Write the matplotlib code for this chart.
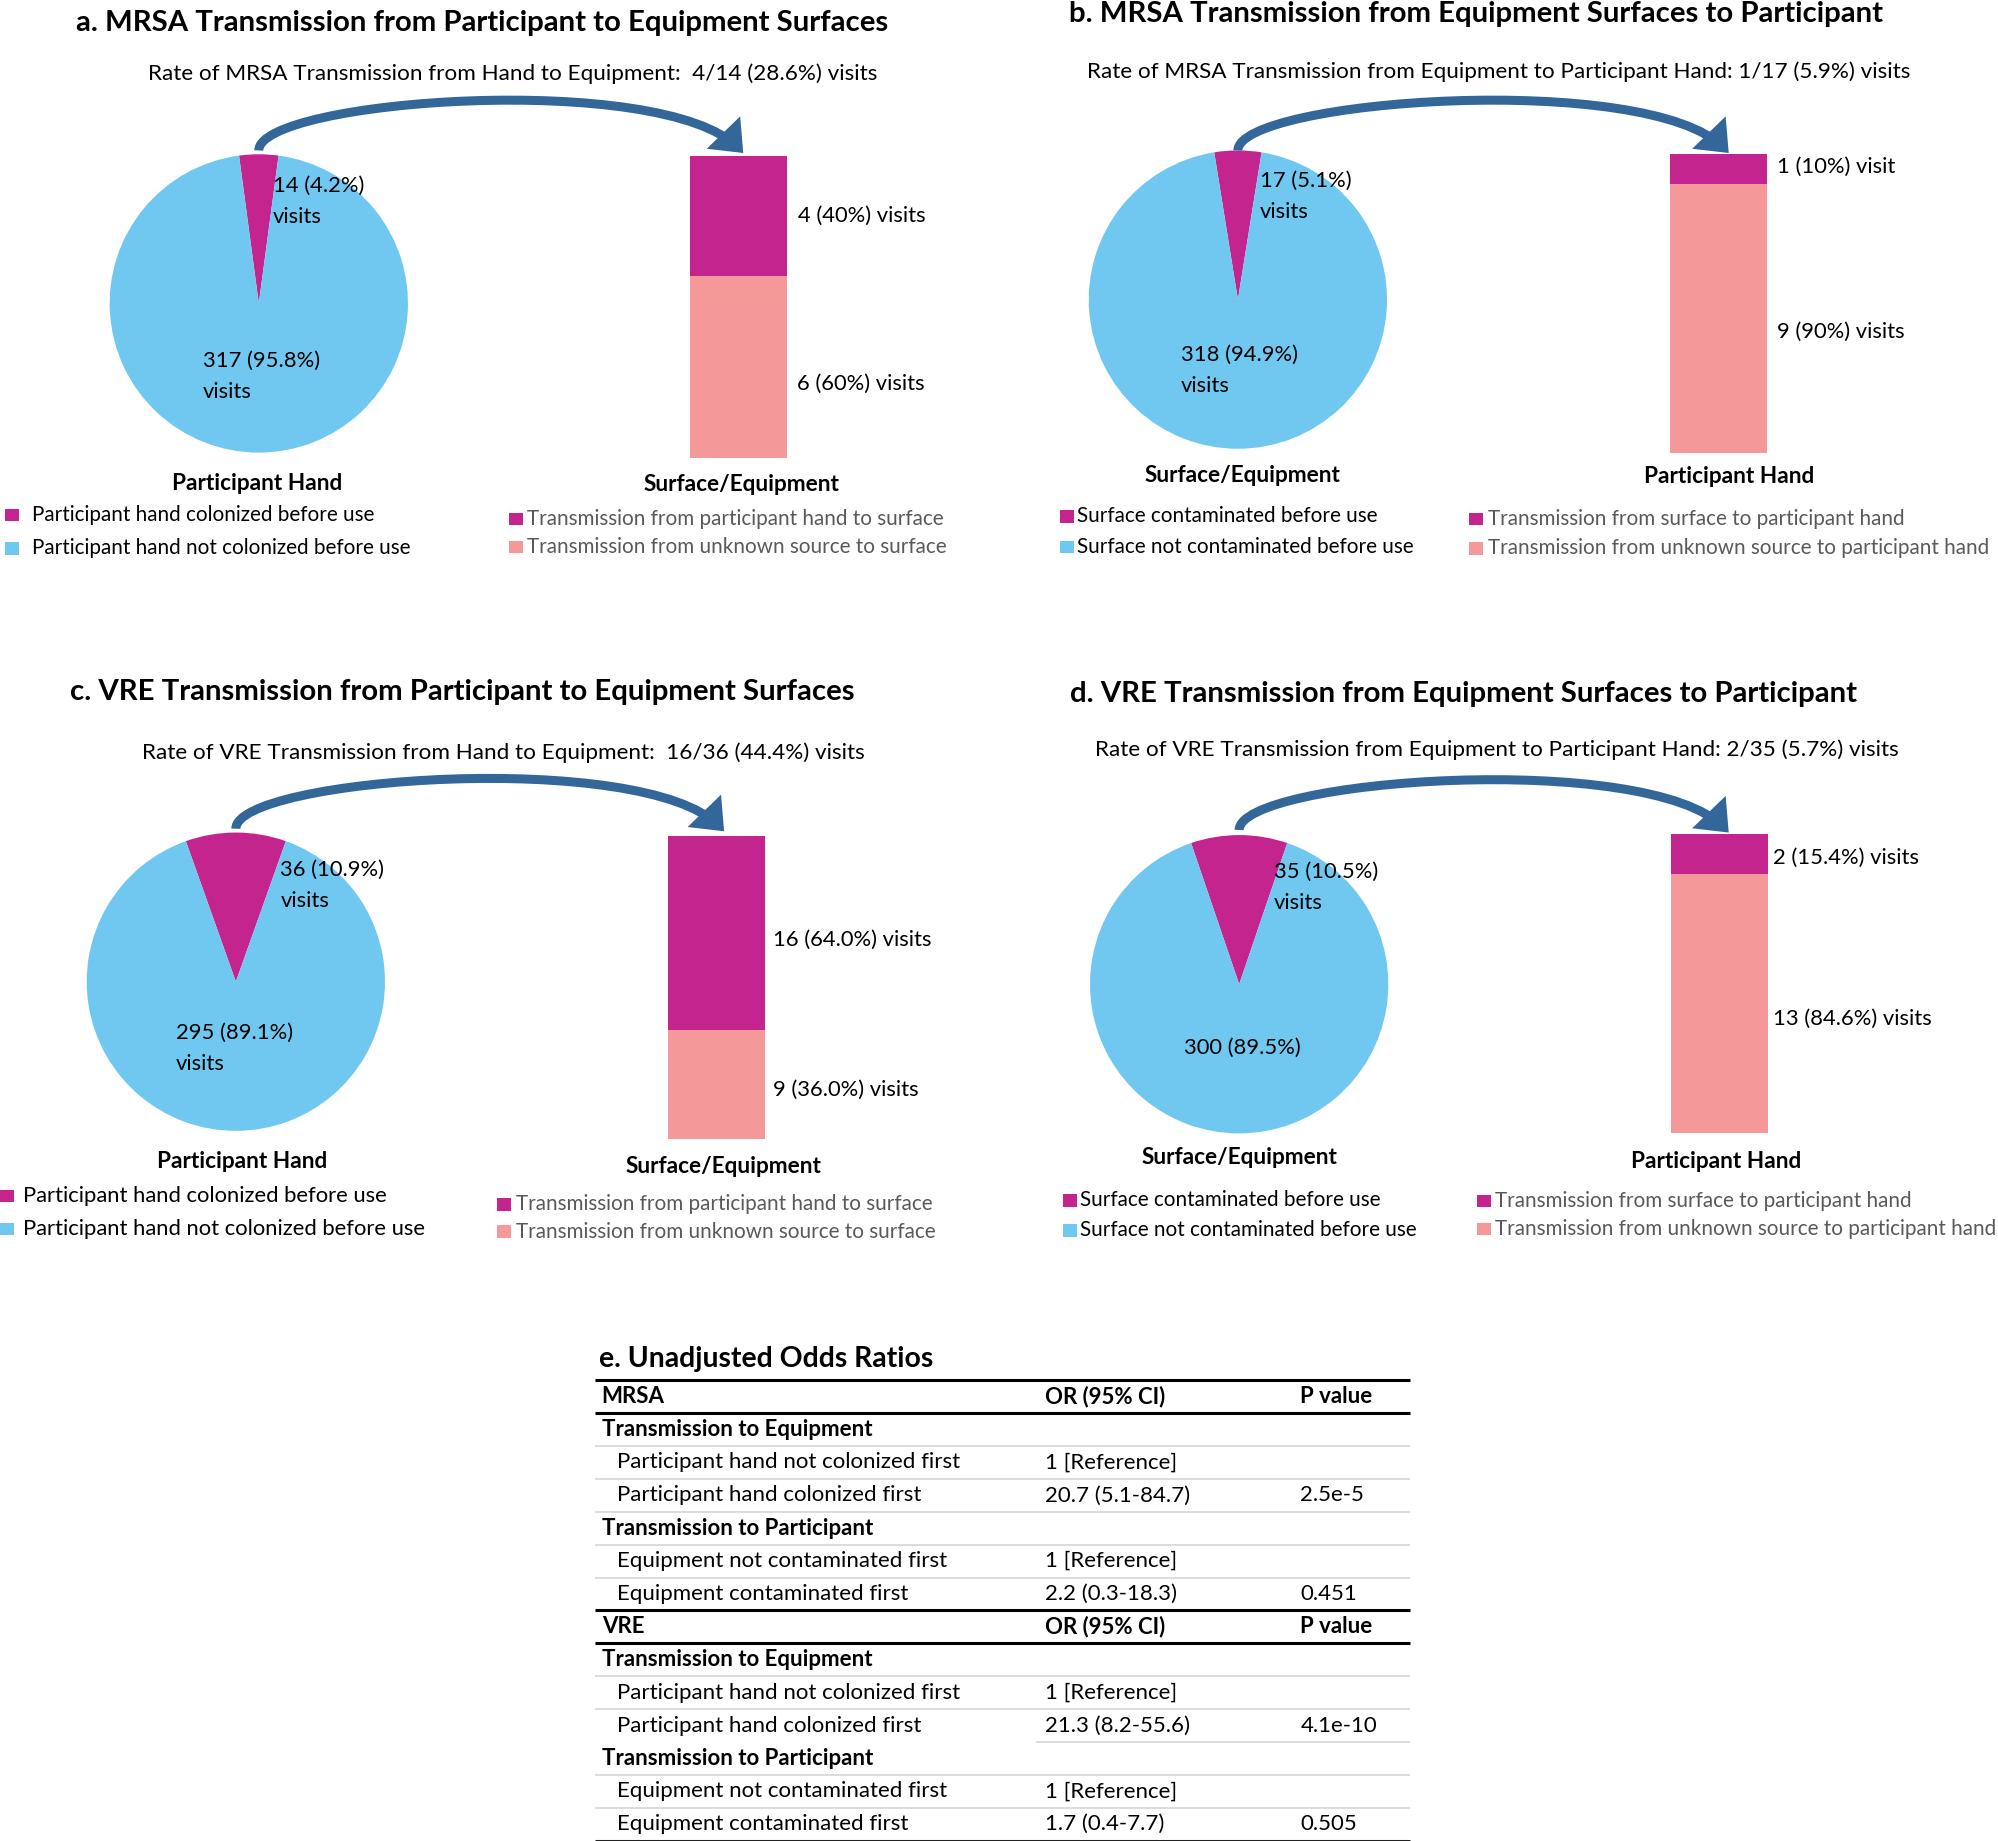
import matplotlib
matplotlib.use("Agg")
import matplotlib.pyplot as plt
from matplotlib.patches import FancyArrowPatch, Rectangle
from matplotlib.path import Path
from matplotlib.lines import Line2D

plt.rcParams['font.family'] = ['Lato', 'DejaVu Sans']

# ---------------- data ----------------
titles = ["a. MRSA Transmission from Participant to Equipment Surfaces",
          "b. MRSA Transmission from Equipment Surfaces to Participant",
          "c. VRE Transmission from Participant to Equipment Surfaces",
          "d. VRE Transmission from Equipment Surfaces to Participant"]
subtitles = ["Rate of MRSA Transmission from Hand to Equipment:  4/14 (28.6%) visits",
             "Rate of MRSA Transmission from Equipment to Participant Hand: 1/17 (5.9%) visits",
             "Rate of VRE Transmission from Hand to Equipment:  16/36 (44.4%) visits",
             "Rate of VRE Transmission from Equipment to Participant Hand: 2/35 (5.7%) visits"]

pie_a = [14, 317]
pie_b = [17, 318]
pie_c = [36, 295]
pie_d = [35, 300]
pie_labels_a = ["14 (4.2%)\nvisits", "317 (95.8%)\nvisits"]
pie_labels_b = ["17 (5.1%)\nvisits", "318 (94.9%)\nvisits"]
pie_labels_c = ["36 (10.9%)\nvisits", "295 (89.1%)\nvisits"]
pie_labels_d = ["35 (10.5%)\nvisits", "300 (89.5%)"]

bar_a = [4, 6]
bar_b = [1, 9]
bar_c = [16, 9]
bar_d = [2, 13]
bar_labels_a = ["4 (40%) visits", "6 (60%) visits"]
bar_labels_b = ["1 (10%) visit", "9 (90%) visits"]
bar_labels_c = ["16 (64.0%) visits", "9 (36.0%) visits"]
bar_labels_d = ["2 (15.4%) visits", "13 (84.6%) visits"]

cat_hand = "Participant Hand"
cat_surf = "Surface/Equipment"

leg_hand = ["Participant hand colonized before use", "Participant hand not colonized before use"]
leg_surf = ["Surface contaminated before use", "Surface not contaminated before use"]
leg_to_surf = ["Transmission from participant hand to surface", "Transmission from unknown source to surface"]
leg_to_hand = ["Transmission from surface to participant hand", "Transmission from unknown source to participant hand"]

table_title = "e. Unadjusted Odds Ratios"
table_label = ["MRSA", "Transmission to Equipment", "Participant hand not colonized first",
               "Participant hand colonized first", "Transmission to Participant",
               "Equipment not contaminated first", "Equipment contaminated first",
               "VRE", "Transmission to Equipment", "Participant hand not colonized first",
               "Participant hand colonized first", "Transmission to Participant",
               "Equipment not contaminated first", "Equipment contaminated first"]
table_or = ["OR (95% CI)", "", "1 [Reference]", "20.7 (5.1-84.7)", "", "1 [Reference]", "2.2 (0.3-18.3)",
            "OR (95% CI)", "", "1 [Reference]", "21.3 (8.2-55.6)", "", "1 [Reference]", "1.7 (0.4-7.7)"]
table_p = ["P value", "", "", "2.5e-5", "", "", "0.451",
           "P value", "", "", "4.1e-10", "", "", "0.505"]
table_kind = ["header", "section", "row", "row", "section", "row", "row",
              "header", "section", "row", "row", "section", "row", "row"]

# ---------------- style ----------------
MAG = "#C4248E"
BLUE = "#70C8F0"
PINK = "#F49899"
ARROW = "#336699"
GRAY_TXT = "#595959"

W, H = 1568.0, 1444.0
fig = plt.figure(figsize=(19.99, 18.41), dpi=100)


def X(x):
    return x / W


def Y(y):
    return 1 - y / H


def txt(x, y, s, size, bold=False, color="black", ha="left", va="center"):
    fig.text(X(x), Y(y), s, fontsize=size, fontweight="bold" if bold else "normal",
             color=color, ha=ha, va=va)


F_TITLE = 21.2
F_SUB = 16.2
F_LAB = 15.8
F_CAT = 16.3
F_LEG = 14.9
LINE_GAP = 24.5


def draw_pie(counts, labels, cx, cy, R, lab_pos):
    ax = fig.add_axes([X(cx - R), Y(cy + R), 2 * R / W, 2 * R / H])
    frac = counts[0] / sum(counts)
    ax.pie(counts, colors=[MAG, BLUE], startangle=90 - frac * 180, counterclock=True,
           radius=1, center=(0, 0), wedgeprops=dict(linewidth=0))
    ax.set_xlim(-1, 1)
    ax.set_ylim(-1, 1)
    ax.set_axis_off()
    for s, (x, y) in zip(labels, lab_pos):
        for k, line in enumerate(s.split("\n")):
            txt(x, y + k * LINE_GAP, line, F_LAB)


def draw_bar(counts, labels, x0, x1, y0, y1, lab_pos):
    ax = fig.add_axes([X(x0), Y(y1), (x1 - x0) / W, (y1 - y0) / H])
    ax.bar(0, counts[1], width=1, color=PINK, linewidth=0)
    ax.bar(0, counts[0], bottom=counts[1], width=1, color=MAG, linewidth=0)
    ax.set_xlim(-0.5, 0.5)
    ax.set_ylim(0, sum(counts))
    ax.set_axis_off()
    for s, (x, y) in zip(labels, lab_pos):
        txt(x, y, s, F_LAB)


def draw_legend(labels, colors, xsq, xt, ys, tcolor, size=F_LEG):
    for s, c, y in zip(labels, colors, ys):
        fig.add_artist(Rectangle((X(xsq), Y(y + 5)), 11 / W, 10 / H, transform=fig.transFigure,
                                 facecolor=c, edgecolor="none"))
        txt(xt, y, s, size, color=tcolor)


def draw_arrow(xs, xe, yb):
    verts = [(X(xs), Y(yb)), (X(xs), Y(yb - 40)), (X(xe - 63), Y(yb - 63)), (X(xe), Y(yb + 2))]
    path = Path(verts, [Path.MOVETO, Path.CURVE4, Path.CURVE4, Path.CURVE4])
    arr = FancyArrowPatch(path=path, transform=fig.transFigure,
                          arrowstyle="-|>,head_length=0.55,head_width=0.45",
                          mutation_scale=22, color=ARROW, linewidth=6.5, joinstyle="miter",
                          capstyle="butt")
    fig.add_artist(arr)


panels = [
    dict(title=titles[0], tpos=(378, 18), sub=subtitles[0], spos=(402, 58),
         pie=pie_a, plab=pie_labels_a, pc=(203, 238), plpos=[(214, 146), (159, 283)],
         pcat=cat_hand, pcpos=(202, 379), pleg=leg_hand, plx=(4, 25), ply=(404, 430), pltc="black",
         plsize=F_LEG,
         bar=bar_a, blab=bar_labels_a, bx=(541, 617, 122, 359), blpos=[(626, 169), (625, 301)],
         bcat=cat_surf, bcpos=(582, 380), bleg=leg_to_surf, blx=(399, 413), bly=(407, 429),
         arrow=(203, 583, 118)),
    dict(title=titles[1], tpos=(1158, 11), sub=subtitles[1], spos=(1175.5, 56),
         pie=pie_b, plab=pie_labels_b, pc=(971, 235), plpos=[(988, 142), (926, 278)],
         pcat=cat_surf, pcpos=(974.5, 373), pleg=leg_surf, plx=(831.5, 844.5), ply=(405, 429),
         pltc="black", plsize=F_LEG,
         bar=bar_b, blab=bar_labels_b, bx=(1310, 1386, 121, 355), blpos=[(1393.5, 131), (1393.5, 260)],
         bcat=cat_hand, bcpos=(1356, 374), bleg=leg_to_hand, blx=(1152.5, 1167.5), bly=(407, 430),
         arrow=(971, 1356, 118)),
    dict(title=titles[2], tpos=(363, 543), sub=subtitles[2], spos=(395, 590),
         pie=pie_c, plab=pie_labels_c, pc=(185, 770), plpos=[(220, 682), (138, 810)],
         pcat=cat_hand, pcpos=(190, 911), pleg=leg_hand, plx=(0, 18), ply=(938, 964), pltc="black",
         plsize=15.85,
         bar=bar_c, blab=bar_labels_c, bx=(524, 600, 656, 893), blpos=[(606, 737), (606, 855)],
         bcat=cat_surf, bcpos=(567.5, 915), bleg=leg_to_surf, blx=(390, 405), bly=(944.5, 966),
         arrow=(185, 568, 650)),
    dict(title=titles[3], tpos=(1148, 544), sub=subtitles[3], spos=(1174, 588),
         pie=pie_d, plab=pie_labels_d, pc=(972, 772), plpos=[(999.5, 684), (928.5, 822)],
         pcat=cat_surf, pcpos=(972, 908), pleg=leg_surf, plx=(833.5, 847.5), ply=(941.5, 965),
         pltc="black", plsize=F_LEG,
         bar=bar_d, blab=bar_labels_d, bx=(1311, 1387, 654, 889), blpos=[(1391, 673), (1391, 799)],
         bcat=cat_hand, bcpos=(1346, 911), bleg=leg_to_hand, blx=(1158.5, 1172.5), bly=(942, 964),
         arrow=(972, 1356, 651)),
]

for p in panels:
    txt(p["tpos"][0], p["tpos"][1], p["title"], F_TITLE, bold=True, ha="center")
    txt(p["spos"][0], p["spos"][1], p["sub"], F_SUB, ha="center")
    draw_pie(p["pie"], p["plab"], p["pc"][0], p["pc"][1], 117, p["plpos"])
    txt(p["pcpos"][0], p["pcpos"][1], p["pcat"], F_CAT, bold=True, ha="center")
    draw_legend(p["pleg"], [MAG, BLUE], p["plx"][0], p["plx"][1], p["ply"], p["pltc"], p["plsize"])
    bx = p["bx"]
    draw_bar(p["bar"], p["blab"], bx[0], bx[1], bx[2], bx[3], p["blpos"])
    txt(p["bcpos"][0], p["bcpos"][1], p["bcat"], F_CAT, bold=True, ha="center")
    draw_legend(p["bleg"], [MAG, PINK], p["blx"][0], p["blx"][1], p["bly"], GRAY_TXT)
    draw_arrow(*p["arrow"])

# ---------------- table ----------------
F_TAB = 16
TX0, TX1 = 467, 1106
txt(470, 1066, table_title, 20.4, bold=True)
y0, dy = 1095.5, 25.8


def hline(y, x0, x1, color, lw):
    fig.add_artist(Line2D([X(x0), X(x1)], [Y(y), Y(y)], transform=fig.transFigure,
                          color=color, linewidth=lw, solid_capstyle="butt"))


for i, (lab, orv, pv, kind) in enumerate(zip(table_label, table_or, table_p, table_kind)):
    y = y0 + i * dy
    if kind == "header":
        txt(472, y, lab, F_TAB, bold=True)
        txt(820, y, orv, F_TAB, bold=True)
        txt(1020, y, pv, F_TAB, bold=True)
        hline(y - dy / 2, TX0, TX1, "black", 2.2)
        hline(y + dy / 2, TX0, TX1, "black", 2.2)
    elif kind == "section":
        txt(472, y, lab, F_TAB, bold=True)
    else:
        txt(484, y, lab, F_TAB)
        txt(820, y, orv, F_TAB)
        txt(1020, y, pv, F_TAB)
    nxt = table_kind[i + 1] if i + 1 < len(table_kind) else "end"
    if nxt in ("row", "section") and kind != "header":
        start = 813 if (kind == "row" and i == 10) else TX0
        hline(y + dy / 2, start, TX1, "#D9D9D9", 1.3)
hline(y0 + (len(table_label) - 1) * dy + dy / 2, TX0, TX1, "#222222", 2.2)

fig.savefig("out.png", dpi=100)
